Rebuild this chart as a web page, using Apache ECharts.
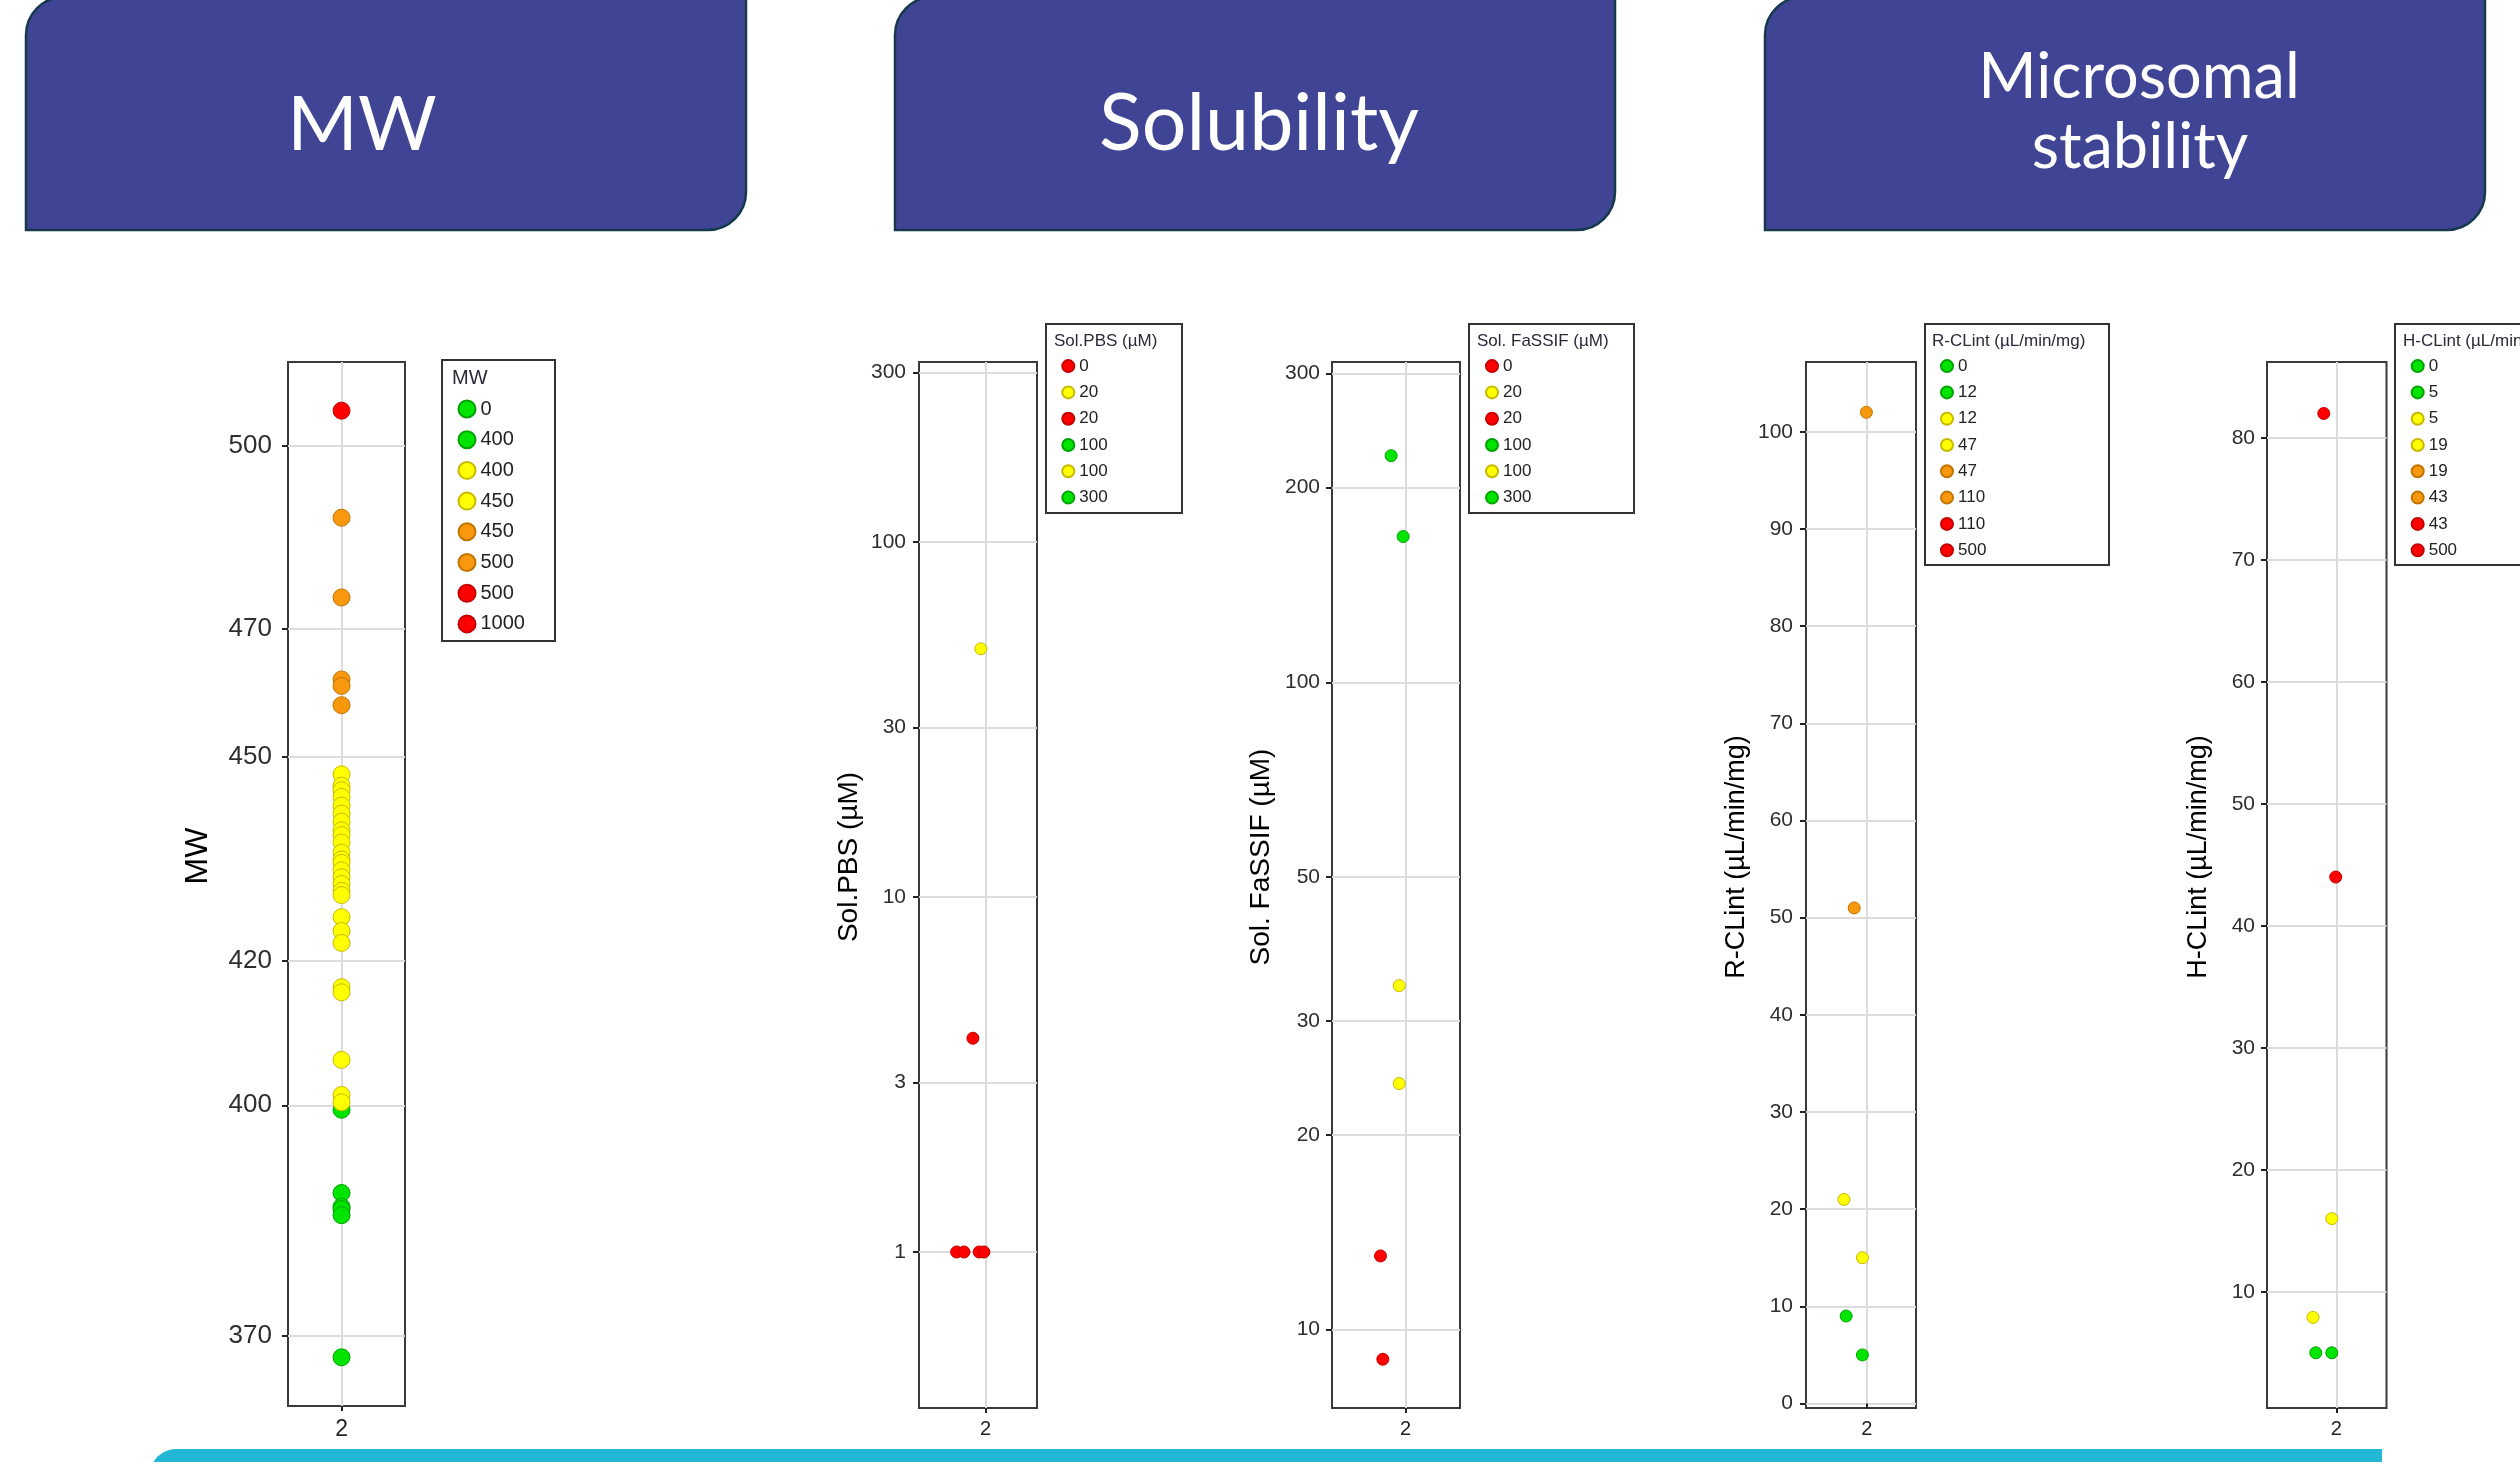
<!DOCTYPE html>
<html>
<head>
<meta charset="utf-8">
<title>MW / Solubility / Microsomal stability</title>
<script src="https://cdn.jsdelivr.net/npm/echarts@6.0.0/dist/echarts.min.js"></script>
<style>
html, body { margin: 0; padding: 0; background: #fff; }
#chart { width: 2520px; height: 1462px; }
</style>
</head>
<body>
<div id="chart"></div>
<script>
// single category under every strip plot
const CAT = 2

// ---- MW (log axis, no jitter) ----
const mwTicks = [370, 400, 420, 450, 470, 500]
const mwRed = [506]
const mwOrange = [488, 475, 462, 461, 458]
const mwYellow = [447.4, 445.7, 445, 444, 442.7, 441.5, 440.3, 439, 438.3, 437.2, 435.7, 434.7, 434.2,
  433.1, 432.1, 431.1, 430.1, 429.5, 426.3, 424.3, 422.6, 416.3, 415.6, 406.2, 401.4, 400.4]
const mwGreen = [399.4, 388.3, 386.5, 386.2, 385.4, 367.3]
const mwLegend = ['0', '400', '400', '450', '450', '500', '500', '1000']
const mwLegendColor = ['green', 'green', 'yellow', 'yellow', 'orange', 'orange', 'red', 'red']

// ---- Sol.PBS (log axis), *X = jitter position around the category ----
const pbsTicks = [1, 3, 10, 30, 100, 300]
const pbsRed = [4, 1, 1, 1, 1]
const pbsRedX = [1.893, 1.755, 1.817, 1.946, 1.986]
const pbsYellow = [50]
const pbsYellowX = [1.96]
const pbsLegend = ['0', '20', '20', '100', '100', '300']
const pbsLegendColor = ['red', 'yellow', 'red', 'green', 'yellow', 'green']

// ---- Sol. FaSSIF (log axis) ----
const fassifTicks = [10, 20, 30, 50, 100, 200, 300]
const fassifGreen = [224, 168]
const fassifGreenX = [1.887, 1.981]
const fassifYellow = [34, 24]
const fassifYellowX = [1.95, 1.95]
const fassifRed = [13, 9]
const fassifRedX = [1.804, 1.822]
const fassifLegend = ['0', '20', '20', '100', '100', '300']
const fassifLegendColor = ['red', 'yellow', 'red', 'green', 'yellow', 'green']

// ---- R-CLint ----
const rclTicks = [0, 10, 20, 30, 40, 50, 60, 70, 80, 90, 100]
const rclOrange = [102, 51]
const rclOrangeX = [1.996, 1.885]
const rclYellow = [21, 15]
const rclYellowX = [1.792, 1.96]
const rclGreen = [9, 5]
const rclGreenX = [1.812, 1.96]
const rclLegend = ['0', '12', '12', '47', '47', '110', '110', '500']
const rclLegendColor = ['green', 'green', 'yellow', 'yellow', 'orange', 'orange', 'red', 'red']

// ---- H-CLint ----
const hclTicks = [10, 20, 30, 40, 50, 60, 70, 80]
const hclRed = [82, 44]
const hclRedX = [1.894, 1.994]
const hclYellow = [16, 7.9]
const hclYellowX = [1.961, 1.804]
const hclGreen = [5, 5]
const hclGreenX = [1.827, 1.961]
const hclLegend = ['0', '5', '5', '19', '19', '43', '43', '500']
const hclLegendColor = ['green', 'green', 'yellow', 'yellow', 'orange', 'orange', 'red', 'red']

const FONT = '"Liberation Sans", Arial, sans-serif'
const HEAD_FONT = 'Lato, "Open Sans", sans-serif'
const palette = {
  green: ['#00E400', '#00A300'],
  yellow: ['#FFFF00', '#C9B800'],
  orange: ['#F7980F', '#C27400'],
  red: ['#FF0000', '#C40000']
}

function pts(values, xs) {
  return values.map((v, i) => [xs ? xs[i] : CAT, v])
}

const panels = [
  {
    key: 'mw', title: 'MW', yType: 'log', yMin: 361.3, yMax: 514.4, ticks: mwTicks,
    xMin: 1.5424, xMax: 2.5424,
    grid: { left: 288, top: 362, width: 117, height: 1044 },
    tickSize: 26, nameSize: 32, nameGap: 74, labelMargin: 16, xLabelSize: 23, xLabelMargin: 12,
    symbolSize: 17,
    points: { red: pts(mwRed), orange: pts(mwOrange), yellow: pts(mwYellow), green: pts(mwGreen) },
    legend: mwLegend, legendColor: mwLegendColor, legendTitle: 'MW',
    box: [442, 360, 113, 281], titlePos: [452, 378], itemLeft: 457.5, itemTop: 399,
    marker: 17, itemGap: 10.7, legendSize: 20
  },
  {
    key: 'pbs', title: 'Sol.PBS (µM)', yType: 'log', yMin: 0.3636, yMax: 321.1, ticks: pbsTicks,
    xMin: 1.436, xMax: 2.436,
    grid: { left: 919, top: 362, width: 118, height: 1046 },
    tickSize: 21, nameSize: 28, nameGap: 56, labelMargin: 13, xLabelSize: 20, xLabelMargin: 11,
    symbolSize: 12,
    points: { red: pts(pbsRed, pbsRedX), yellow: pts(pbsYellow, pbsYellowX), green: [] },
    legend: pbsLegend, legendColor: pbsLegendColor, legendTitle: 'Sol.PBS (µM)',
    box: [1046, 324, 136, 189], titlePos: [1054, 341], itemLeft: 1061.3, itemTop: 357.6,
    marker: 12, itemGap: 9.3, legendSize: 17
  },
  {
    key: 'fassif', title: 'Sol. FaSSIF (µM)', yType: 'log', yMin: 7.568, yMax: 312.6, ticks: fassifTicks,
    xMin: 1.425, xMax: 2.425,
    grid: { left: 1332, top: 362, width: 128, height: 1046 },
    tickSize: 21, nameSize: 28, nameGap: 57, labelMargin: 12, xLabelSize: 20, xLabelMargin: 11,
    symbolSize: 12,
    points: { red: pts(fassifRed, fassifRedX), yellow: pts(fassifYellow, fassifYellowX), green: pts(fassifGreen, fassifGreenX) },
    legend: fassifLegend, legendColor: fassifLegendColor, legendTitle: 'Sol. FaSSIF (µM)',
    box: [1469, 324, 165, 189], titlePos: [1477, 341], itemLeft: 1485, itemTop: 357.6,
    marker: 12, itemGap: 9.3, legendSize: 17
  },
  {
    key: 'rcl', title: 'R-CLint (µL/min/mg)', yType: 'value', yMin: -0.463, yMax: 107.18, ticks: rclTicks,
    xMin: 1.447, xMax: 2.447,
    grid: { left: 1806, top: 362, width: 110, height: 1046 },
    tickSize: 21, nameSize: 27, nameGap: 56, labelMargin: 13, xLabelSize: 20, xLabelMargin: 11,
    symbolSize: 12,
    points: { red: [], orange: pts(rclOrange, rclOrangeX), yellow: pts(rclYellow, rclYellowX), green: pts(rclGreen, rclGreenX) },
    legend: rclLegend, legendColor: rclLegendColor, legendTitle: 'R-CLint (µL/min/mg)',
    box: [1925, 324, 184, 241], titlePos: [1932, 341], itemLeft: 1940, itemTop: 357.6,
    marker: 12, itemGap: 9.3, legendSize: 17
  },
  {
    key: 'hcl', title: 'H-CLint (µL/min/mg)', yType: 'value', yMin: 0.475, yMax: 86.22, ticks: hclTicks,
    xMin: 1.419, xMax: 2.419,
    grid: { left: 2267, top: 362, width: 119.5, height: 1046 },
    tickSize: 21, nameSize: 27, nameGap: 55, labelMargin: 12, xLabelSize: 20, xLabelMargin: 11,
    symbolSize: 12,
    points: { red: pts(hclRed, hclRedX), orange: [], yellow: pts(hclYellow, hclYellowX), green: pts(hclGreen, hclGreenX) },
    legend: hclLegend, legendColor: hclLegendColor, legendTitle: 'H-CLint (µL/min/mg)',
    box: [2395, 324, 200, 241], titlePos: [2403, 341], itemLeft: 2410.7, itemTop: 357.6,
    marker: 12, itemGap: 9.3, legendSize: 17
  }
]

const grid = []
const xAxis = []
const yAxis = []
const series = []
const legend = []
const legendText = {}
const graphic = []

// header boxes
const headers = [
  { x: 26, texts: [{ t: 'MW', x: 362, y: 125, s: 76 }] },
  { x: 895, texts: [{ t: 'Solubility', x: 1259, y: 125, s: 79 }] },
  { x: 1765, texts: [{ t: 'Microsomal', x: 2139, y: 78, s: 63 }, { t: 'stability', x: 2140, y: 148, s: 63 }] }
]
headers.forEach(h => {
  graphic.push({
    type: 'rect', z: 1,
    shape: { x: h.x, y: -3, width: 720, height: 233, r: [38, 0, 38, 0] },
    style: { fill: '#3F4494', stroke: '#163A4C', lineWidth: 2.5 }
  })
  h.texts.forEach(t => {
    graphic.push({
      type: 'text', z: 2, x: t.x, y: t.y,
      style: { text: t.t, fill: '#fff', fontSize: t.s, fontFamily: HEAD_FONT, align: 'center', verticalAlign: 'middle' }
    })
  })
})

// cyan strip at the bottom
graphic.push({
  type: 'rect', z: 1,
  shape: { x: 150, y: 1449, width: 2232, height: 40, r: [26, 0, 0, 0] },
  style: { fill: '#22B8D5' }
})

panels.forEach((p, idx) => {
  grid.push(Object.assign({
    show: true, borderColor: '#3a3a3a', borderWidth: 2, backgroundColor: '#fff',
    outerBoundsMode: 'none'
  }, p.grid))

  xAxis.push({
    type: 'value', gridIndex: idx, min: p.xMin, max: p.xMax,
    axisLine: { show: false },
    axisTick: { show: true, customValues: [CAT], length: 5, lineStyle: { color: '#222', width: 2 } },
    axisLabel: { customValues: [CAT], fontSize: p.xLabelSize, color: '#222', fontFamily: FONT, margin: p.xLabelMargin },
    splitLine: { show: true, lineStyle: { color: '#DCDCDC', width: 2 } }
  })

  yAxis.push({
    type: p.yType, logBase: 10, gridIndex: idx, min: p.yMin, max: p.yMax,
    name: p.title, nameLocation: 'middle', nameRotate: 90, nameGap: p.nameGap,
    nameTextStyle: { fontSize: p.nameSize, color: '#000', fontFamily: FONT, padding: [0, 0, 0, 56] },
    axisLine: { show: false },
    axisTick: { show: true, customValues: p.ticks, length: 6, lineStyle: { color: '#222', width: 2 } },
    axisLabel: {
      customValues: p.ticks, fontSize: p.tickSize, color: '#2e2e2e', fontFamily: FONT, margin: p.labelMargin,
      formatter: v => String(Math.round(v * 100) / 100)
    },
    splitLine: { show: true, lineStyle: { color: '#DCDCDC', width: 2 } },
    minorTick: { show: false },
    minorSplitLine: { show: false }
  })

  // one series per legend entry; points go into the first entry of their colour
  const used = {}
  const names = []
  p.legend.forEach((label, i) => {
    const c = p.legendColor[i]
    const name = p.key + '-' + i
    legendText[name] = label
    names.push(name)
    const data = used[c] ? [] : (p.points[c] || [])
    used[c] = true
    series.push({
      name: name, type: 'scatter', xAxisIndex: idx, yAxisIndex: idx,
      symbol: 'circle', symbolSize: p.symbolSize, data: data, z: 3,
      itemStyle: { color: palette[c][0], borderColor: palette[c][1], borderWidth: 1, opacity: 1 },
      emphasis: { disabled: true }
    })
  })

  legend.push({
    orient: 'vertical', left: p.itemLeft, top: p.itemTop, padding: 0,
    itemWidth: p.marker, itemHeight: p.marker, itemGap: p.itemGap,
    icon: 'circle', selectedMode: false, data: names, z: 5,
    formatter: name => legendText[name],
    textStyle: { fontSize: p.legendSize, color: '#222', fontFamily: FONT }
  })

  graphic.push({
    type: 'rect', z: 1,
    shape: { x: p.box[0], y: p.box[1], width: p.box[2], height: p.box[3] },
    style: { fill: '#fff', stroke: '#333', lineWidth: 2 }
  })
  graphic.push({
    type: 'text', z: 2, x: p.titlePos[0], y: p.titlePos[1],
    style: { text: p.legendTitle, fill: '#2a2a38', fontSize: p.legendSize, fontFamily: FONT, align: 'left', verticalAlign: 'middle' }
  })
})

const chart = echarts.init(document.getElementById('chart'))
chart.setOption({
  backgroundColor: '#fff',
  animation: false,
  grid: grid,
  xAxis: xAxis,
  yAxis: yAxis,
  legend: legend,
  series: series,
  graphic: { elements: graphic }
})
</script>
</body>
</html>
